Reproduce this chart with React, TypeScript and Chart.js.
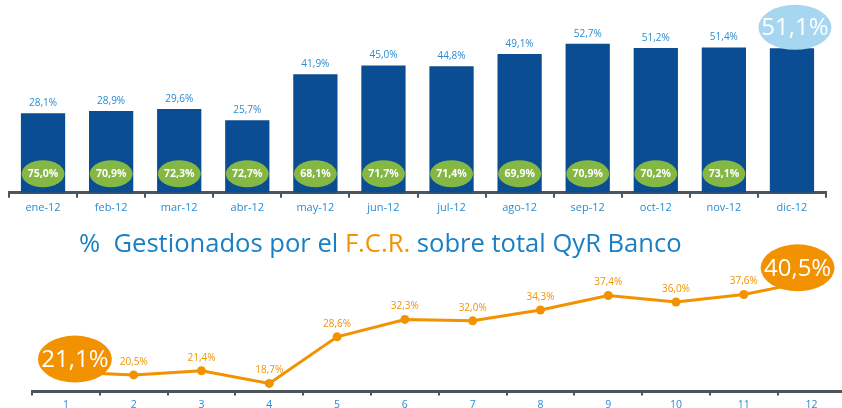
import React, { useEffect, useRef } from "react";
import { Chart, registerables } from "chart.js";

Chart.register(...registerables);

// ---------- Data ----------
const months = ["ene-12", "feb-12", "mar-12", "abr-12", "may-12", "jun-12", "jul-12", "ago-12", "sep-12", "oct-12", "nov-12", "dic-12"];
const mainPct = [28.1, 28.9, 29.6, 25.7, 41.9, 45.0, 44.8, 49.1, 52.7, 51.2, 51.4, 51.1];
const innerPct: (number | null)[] = [75.0, 70.9, 72.3, 72.7, 68.1, 71.7, 71.4, 69.9, 70.9, 70.2, 73.1, null];

const monthNums = ["1", "2", "3", "4", "5", "6", "7", "8", "9", "10", "11", "12"];
const fcrPct = [21.1, 20.5, 21.4, 18.7, 28.6, 32.3, 32.0, 34.3, 37.4, 36.0, 37.6, 40.5];

const titleParts = [
  { text: "%  Gestionados por el ", accent: false },
  { text: "F.C.R.", accent: true },
  { text: " sobre total QyR Banco", accent: false },
];

// ---------- Styles ----------
const NAVY = "#0a4d92";
const GREEN = "#84b743";
const LIGHTBLUE = "#a6d6f0";
const ORANGE = "#f39200";
const TEXTBLUE = "#2b8cd0";
const TITLEBLUE = "#1a7fc3";
const AXIS = "#4d555c";
const FONT = "'Open Sans', 'Noto Sans', sans-serif";

const fmt = (v: number) => v.toFixed(1).replace(".", ",") + "%";

function ellipse(ctx: CanvasRenderingContext2D, x: number, y: number, rx: number, ry: number, fill: string) {
  ctx.beginPath();
  ctx.ellipse(x, y, rx, ry, 0, 0, Math.PI * 2);
  ctx.fillStyle = fill;
  ctx.fill();
}

const barLabelPlugin = {
  id: "barLabels",
  afterDatasetsDraw(chart: any) {
    const ctx: CanvasRenderingContext2D = chart.ctx;
    const meta = chart.getDatasetMeta(0);
    const base = chart.scales.y.getPixelForValue(0);
    ctx.save();
    ctx.textAlign = "center";
    ctx.textBaseline = "middle";
    meta.data.forEach((bar: any, i: number) => {
      const { x, y } = bar.getProps(["x", "y"], true);
      if (i === mainPct.length - 1) {
        ellipse(ctx, x + 3, y - 21, 36.5, 22.5, LIGHTBLUE);
        ctx.fillStyle = "#ffffff";
        ctx.font = `24px ${FONT}`;
        ctx.fillText(fmt(mainPct[i]), x + 3, y - 20);
      } else {
        ctx.fillStyle = TEXTBLUE;
        ctx.font = `10px ${FONT}`;
        ctx.fillText(fmt(mainPct[i]), x, y - 10);
      }
      const g = innerPct[i];
      if (g != null) {
        ellipse(ctx, x, base - 19, 21.5, 13.5, GREEN);
        ctx.fillStyle = "#ffffff";
        ctx.font = `bold 10.5px ${FONT}`;
        ctx.fillText(fmt(g), x, base - 18.5);
      }
    });
    ctx.restore();
  },
};

const lineLabelPlugin = {
  id: "lineLabels",
  afterDatasetsDraw(chart: any) {
    const ctx: CanvasRenderingContext2D = chart.ctx;
    const meta = chart.getDatasetMeta(0);
    ctx.save();
    ctx.textAlign = "center";
    ctx.textBaseline = "middle";
    meta.data.forEach((pt: any, i: number) => {
      const { x, y } = pt.getProps(["x", "y"], true);
      if (i === 0 || i === fcrPct.length - 1) {
        const dx = i === 0 ? 9 : -14;
        ellipse(ctx, x + dx, y - 13, 37, 23.5, ORANGE);
        ctx.fillStyle = "#ffffff";
        ctx.font = `24px ${FONT}`;
        ctx.fillText(fmt(fcrPct[i]), x + dx, y - 12);
      } else {
        ctx.fillStyle = ORANGE;
        ctx.font = `10px ${FONT}`;
        ctx.fillText(fmt(fcrPct[i]), x, y - 13);
      }
    });
    // title
    const targetW = 603;
    let size = 24;
    ctx.font = `${size}px ${FONT}`;
    const full = titleParts.map((p) => p.text).join("");
    const w = ctx.measureText(full).width;
    size = size * (targetW / w);
    ctx.font = `${size}px ${FONT}`;
    ctx.textAlign = "left";
    ctx.textBaseline = "alphabetic";
    let tx = 79;
    titleParts.forEach((p) => {
      ctx.fillStyle = p.accent ? ORANGE : TITLEBLUE;
      ctx.fillText(p.text, tx, 27);
      tx += ctx.measureText(p.text).width;
    });
    ctx.restore();
  },
};

export default function App() {
  const topRef = useRef<HTMLCanvasElement>(null);
  const botRef = useRef<HTMLCanvasElement>(null);

  useEffect(() => {
    const top = new Chart(topRef.current!, {
      type: "bar",
      data: {
        labels: months,
        datasets: [
          {
            data: mainPct,
            backgroundColor: NAVY,
            barPercentage: 0.65,
            categoryPercentage: 1,
          },
        ],
      },
      options: {
        responsive: false,
        animation: false,
        devicePixelRatio: 1,
        layout: { padding: { left: 9, right: 16, top: 0, bottom: 3 } },
        plugins: { legend: { display: false }, tooltip: { enabled: false }, title: { display: false } },
        scales: {
          x: {
            offset: true,
            grid: { display: true, offset: true, drawOnChartArea: false, drawTicks: true, tickLength: 5, color: AXIS, lineWidth: 2 },
            border: { display: true, color: AXIS, width: 3 },
            ticks: { color: TEXTBLUE, font: { family: FONT, size: 11 }, padding: 3, maxRotation: 0, autoSkip: false },
          },
          y: { display: false, min: 0, max: 68.2 },
        },
      },
      plugins: [barLabelPlugin],
    });

    const bot = new Chart(botRef.current!, {
      type: "line",
      data: {
        labels: monthNums,
        datasets: [
          {
            data: fcrPct,
            borderColor: ORANGE,
            borderWidth: 3,
            pointRadius: 4.5,
            pointBackgroundColor: ORANGE,
            pointBorderWidth: 0,
            tension: 0,
            clip: false as any,
          },
        ],
      },
      options: {
        responsive: false,
        animation: false,
        devicePixelRatio: 1,
        layout: { padding: { left: 32, right: 2, top: 30, bottom: 0 } },
        plugins: { legend: { display: false }, tooltip: { enabled: false }, title: { display: false } },
        scales: {
          x: {
            offset: true,
            grid: { display: true, offset: true, drawOnChartArea: false, drawTicks: true, tickLength: 4, color: AXIS, lineWidth: 2 },
            border: { display: true, color: AXIS, width: 3 },
            ticks: { color: TEXTBLUE, font: { family: FONT, size: 10.5 }, padding: 3, maxRotation: 0, autoSkip: false },
          },
          y: { display: false, min: 17, max: 46 },
        },
      },
      plugins: [lineLabelPlugin],
    });

    return () => {
      top.destroy();
      bot.destroy();
    };
  }, []);

  return (
    <div style={{ position: "absolute", left: 0, top: 0, width: 842, height: 408, overflow: "hidden", background: "#ffffff" }}>
      <canvas ref={topRef} width={842} height={220} style={{ position: "absolute", left: 0, top: 0, width: 842, height: 220 }} />
      <canvas ref={botRef} width={850} height={189} style={{ position: "absolute", left: 0, top: 225, width: 850, height: 189 }} />
    </div>
  );
}
